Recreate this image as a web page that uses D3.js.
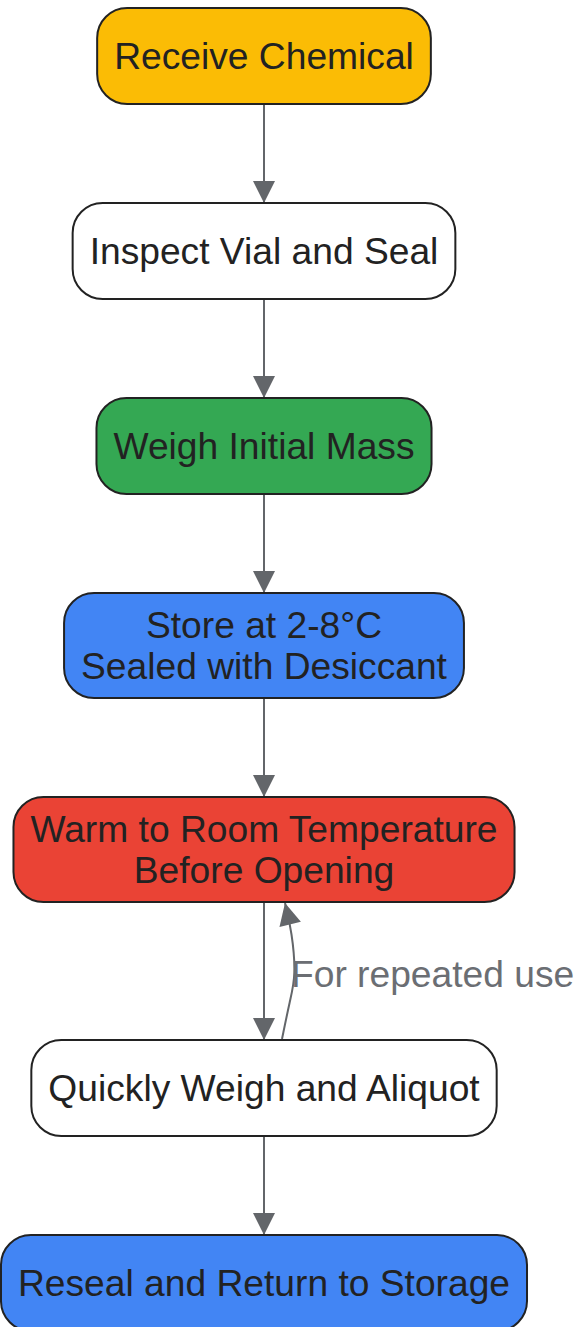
<!DOCTYPE html>
<html>
<head>
<meta charset="utf-8">
<script src="https://cdn.jsdelivr.net/npm/d3@7"></script>
<style>
  html, body { margin: 0; padding: 0; background: #fff; }
  svg { display: block; }
</style>
</head>
<body>
<svg id="chart" width="577" height="1327"></svg>
<script>
// flow steps, top to bottom
const stepLabels = [
  ["Receive Chemical"],
  ["Inspect Vial and Seal"],
  ["Weigh Initial Mass"],
  ["Store at 2-8°C", "Sealed with Desiccant"],
  ["Warm to Room Temperature", "Before Opening"],
  ["Quickly Weigh and Aliquot"],
  ["Reseal and Return to Storage"]
];
const stepFills = ["#fbbc05", "#ffffff", "#34a853", "#4285f4", "#ea4335", "#ffffff", "#4285f4"];

// edges: [from, to, label]
const edgeFrom = [0, 1, 2, 3, 4, 5, 5];
const edgeTo = [1, 2, 3, 4, 5, 6, 4];
const edgeLabels = ["", "", "", "", "", "", "For repeated use"];

const cx = 264;
const fontSize = 37.2;
const lineGap = 41;
const padX = 17;
const baseH = 87;
const gap = 99;
const loopGap = 138;
const edgeColor = "#63666a";

const svg = d3.select("#chart");

const defs = svg.append("defs");
defs.append("marker")
  .attr("id", "arrow")
  .attr("viewBox", "0 0 10 10")
  .attr("refX", 10)
  .attr("refY", 5)
  .attr("markerUnits", "userSpaceOnUse")
  .attr("markerWidth", 30)
  .attr("markerHeight", 22)
  .attr("orient", "auto")
  .append("path")
  .attr("d", "M0,0 L10,5 L0,10 z")
  .attr("fill", edgeColor);

// measure text widths
const measure = svg.append("text")
  .attr("font-family", "'Liberation Sans', Arial, sans-serif")
  .attr("font-size", fontSize);
function textW(s) {
  measure.text(s);
  return measure.node().getComputedTextLength();
}

// layout nodes
const nodes = [];
let y = 8;
stepLabels.forEach((lines, i) => {
  const tw = d3.max(lines, textW);
  const h = baseH + lines.length * 9;
  nodes.push({ lines, fill: stepFills[i], w: tw + padX * 2, h, top: y });
  // loop edge below the warm step needs more room
  const hasLoop = edgeFrom.some((f, k) => f === i + 1 && edgeTo[k] === i);
  y += h + (hasLoop ? loopGap : gap);
});
measure.remove();

// edges
const curve = d3.line().curve(d3.curveBasis);
edgeFrom.forEach((f, k) => {
  const a = nodes[f], b = nodes[edgeTo[k]];
  if (edgeTo[k] > f) {
    svg.append("path")
      .attr("d", `M${cx},${a.top + a.h} L${cx},${b.top}`)
      .attr("stroke", edgeColor)
      .attr("stroke-width", 2)
      .attr("fill", "none")
      .attr("marker-end", "url(#arrow)");
  } else {
    const y0 = a.top, y1 = b.top + b.h;
    const pts = [
      [cx + 18, y0 - 1],
      [cx + 26, y0 - 40],
      [cx + 32, (y0 + y1) / 2 + 5],
      [cx + 28, y1 + 30],
      [cx + 21, y1 + 1]
    ];
    svg.append("path")
      .attr("d", curve(pts))
      .attr("stroke", edgeColor)
      .attr("stroke-width", 2)
      .attr("fill", "none")
      .attr("marker-end", "url(#arrow)");
    svg.append("text")
      .attr("x", cx + 27)
      .attr("y", (y0 + y1) / 2 + 3)
      .attr("dy", "0.35em")
      .attr("font-family", "'Liberation Sans', Arial, sans-serif")
      .attr("font-size", fontSize)
      .attr("fill", "#6b6e73")
      .text(edgeLabels[k]);
  }
});

// nodes
const g = svg.selectAll("g.node")
  .data(nodes)
  .join("g")
  .attr("class", "node");

g.append("rect")
  .attr("x", d => cx - d.w / 2)
  .attr("y", d => d.top)
  .attr("width", d => d.w)
  .attr("height", d => d.h)
  .attr("rx", 30)
  .attr("ry", 30)
  .attr("fill", d => d.fill)
  .attr("stroke", "#222")
  .attr("stroke-width", 2);

g.each(function (d) {
  const t = d3.select(this).append("text")
    .attr("text-anchor", "middle")
    .attr("font-family", "'Liberation Sans', Arial, sans-serif")
    .attr("font-size", fontSize)
    .attr("fill", "#222");
  const mid = d.top + d.h / 2;
  d.lines.forEach((ln, i) => {
    t.append("tspan")
      .attr("x", cx)
      .attr("y", mid + (i - (d.lines.length - 1) / 2) * lineGap)
      .attr("dy", "0.35em")
      .text(ln);
  });
});
</script>
</body>
</html>
